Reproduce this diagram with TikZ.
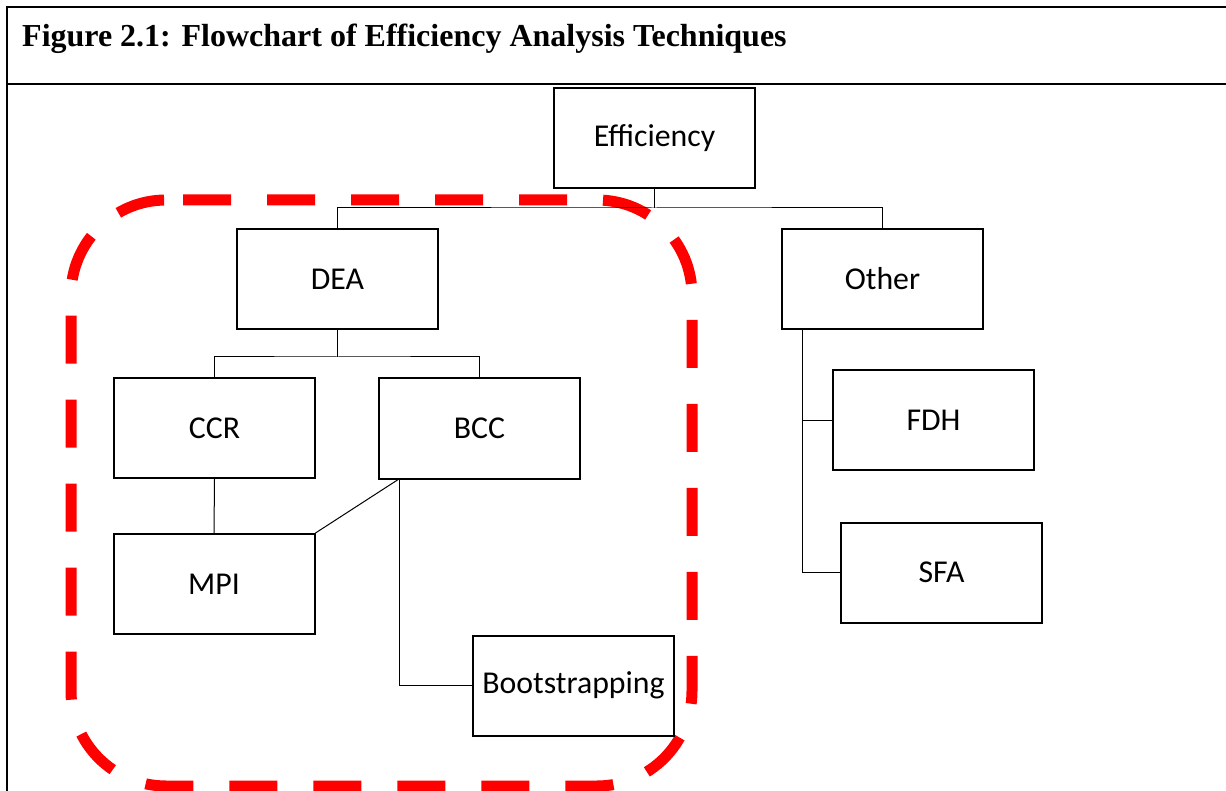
\documentclass[tikz,border=0pt]{standalone}
\usepackage{fontspec}
\setmainfont{Carlito}
\newfontfamily\titleserif{Liberation Serif}
\begin{document}
\begin{tikzpicture}[x=1pt,y=-1pt,
  box/.style={draw, line width=2pt, minimum width=201pt, minimum height=100pt, inner sep=0pt,
    font=\fontsize{31.8}{38}\selectfont},
  conn/.style={line width=1pt},
  frame/.style={line width=2pt},
  group/.style={draw=red, line width=11pt, dash pattern=on 48pt off 36pt, rounded corners=95pt}]
\useasboundingbox (0,0) rectangle (1226,791);
\clip (0,0) rectangle (1226,791);
% frame
\draw[frame] (1226,7) -- (7,7) -- (7,791);
\draw[frame] (7,84) -- (1226,84);
\node[anchor=base west, inner sep=0pt, font=\titleserif\bfseries\fontsize{32}{38}\selectfont] (title) at (22,47) {Figure 2.1: Flowchart of Efficiency Analysis Techniques};
% group outline
\draw[group] (183,200) -- (692,200) -- (692,786) -- (71,786) -- (71,200) -- (183,200);
% boxes
\node[box] (eff) at (654.5,138.5) {Efficiency};
\node[box] (dea) at (337.5,279) {DEA};
\node[box] (oth) at (882.5,279) {Other};
\node[box] (ccr) at (214.5,428) {CCR};
\node[box] (bcc) at (479.5,428.5) {BCC};
\node[box] (mpi) at (214,584) {MPI};
\node[box] (fdh) at (933.5,420) {FDH};
\node[box] (sfa) at (941.5,572.5) {SFA};
\node[box] (boot) at (573.5,685.5) {Bootstrapping};
% connectors
\coordinate (j1) at (654.5,208);
\coordinate (j2) at (337.5,357);
\coordinate (b1) at (399,479);
\coordinate (o1) at (802,329);
\draw[conn] (eff.south) -- (j1);
\draw[conn] (dea.north) |- (j1) -| (oth.north);
\draw[conn] (dea.south) -- (j2);
\draw[conn] (ccr.north) |- (j2) -| (bcc.north);
\draw[conn] (ccr.south) -- (mpi.north);
\draw[conn] (b1) -- (mpi.north east);
\draw[conn] (b1) |- (boot.west);
\draw[conn] (o1) |- (fdh.west);
\draw[conn] (o1) |- (sfa.west);
\end{tikzpicture}
\end{document}
